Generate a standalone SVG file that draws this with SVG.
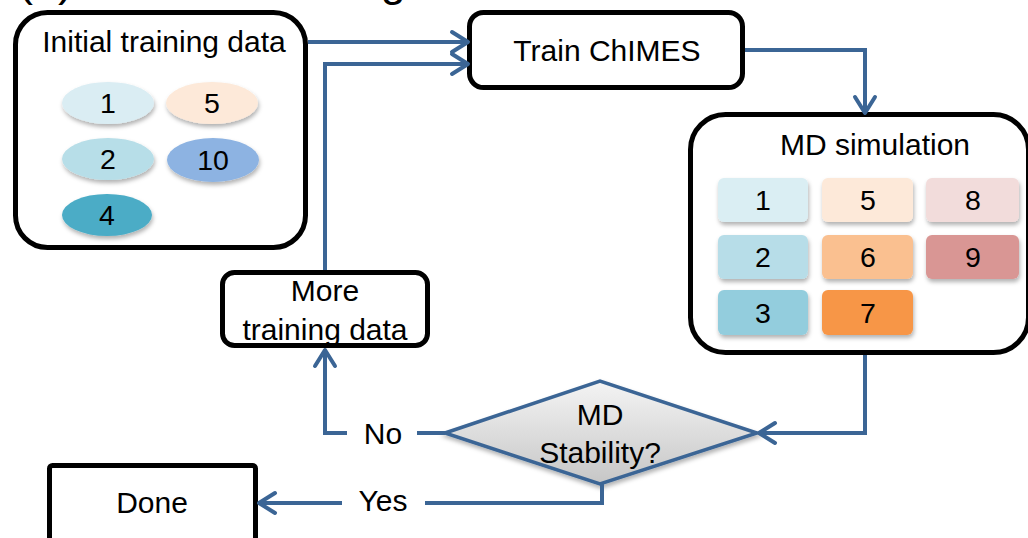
<svg xmlns="http://www.w3.org/2000/svg" width="1028" height="538" viewBox="0 0 1028 538">
<style>
text{font-family:"Liberation Sans",Arial,sans-serif;fill:#000;text-anchor:middle}
.lbl{font-size:30px}
.num{font-size:28.5px}
.box{fill:#fff;stroke:#000;stroke-width:5}
.con{fill:none;stroke:#3b6595;stroke-width:4}
</style>
<defs>
<marker id="arr" viewBox="0 0 20 22" refX="18" refY="11" markerWidth="20" markerHeight="22" markerUnits="userSpaceOnUse" orient="auto" overflow="visible">
<path d="M2,1 L18,11 L2,21" fill="none" stroke="#3b6595" stroke-width="4" stroke-linecap="round" stroke-linejoin="round"/>
</marker>
<filter id="sh" x="-20%" y="-20%" width="140%" height="150%">
<feDropShadow dx="1" dy="3" stdDeviation="2" flood-color="#000" flood-opacity="0.3"/>
</filter>
<linearGradient id="dg" x1="0" y1="0" x2="0" y2="1">
<stop offset="0" stop-color="#f4f4f4"/>
<stop offset="1" stop-color="#c6c6c6"/>
</linearGradient>
</defs>

<text x="18" y="-4" style="font-size:45px;text-anchor:start">(a) Iterative training</text>

<g id="initial-data">
<rect class="box" x="15.5" y="12.5" width="290" height="235" rx="32"/>
<text class="lbl" x="164" y="52">Initial training data</text>
<ellipse cx="108" cy="103" rx="46" ry="21" fill="#daedf3" filter="url(#sh)"/>
<text class="num" x="108" y="113">1</text>
<ellipse cx="212" cy="103" rx="46" ry="21" fill="#fde9d9" filter="url(#sh)"/>
<text class="num" x="212" y="113">5</text>
<ellipse cx="108" cy="159" rx="46" ry="21" fill="#b7dee8" filter="url(#sh)"/>
<text class="num" x="108" y="169">2</text>
<ellipse cx="213" cy="160" rx="46" ry="22" fill="#8db3e2" filter="url(#sh)"/>
<text class="num" x="213" y="170">10</text>
<ellipse cx="107" cy="215" rx="45" ry="21" fill="#4bacc6" filter="url(#sh)"/>
<text class="num" x="107" y="225">4</text>
</g>

<g id="train">
<rect class="box" x="469.5" y="12.5" width="273" height="75" rx="14"/>
<text class="lbl" x="607" y="61">Train ChIMES</text>
</g>

<g id="md-sim">
<rect class="box" x="690.5" y="114.5" width="338" height="238" rx="35"/>
<text class="lbl" x="875" y="155">MD simulation</text>
<g filter="url(#sh)">
<rect x="718" y="178" width="90" height="44" rx="6" fill="#daeef3"/>
<rect x="822" y="178" width="91" height="44" rx="6" fill="#fde9d9"/>
<rect x="926" y="178" width="93" height="44" rx="6" fill="#f2dcdb"/>
<rect x="718" y="235" width="90" height="44" rx="6" fill="#b7dde8"/>
<rect x="822" y="235" width="91" height="44" rx="6" fill="#fac090"/>
<rect x="926" y="235" width="93" height="44" rx="6" fill="#d99694"/>
<rect x="718" y="290" width="90" height="45" rx="6" fill="#93cddd"/>
<rect x="822" y="290" width="91" height="45" rx="6" fill="#f79646"/>
</g>
<text class="num" x="763" y="210">1</text>
<text class="num" x="868" y="210">5</text>
<text class="num" x="973" y="210">8</text>
<text class="num" x="763" y="267">2</text>
<text class="num" x="868" y="267">6</text>
<text class="num" x="973" y="267">9</text>
<text class="num" x="763" y="323">3</text>
<text class="num" x="868" y="323">7</text>
</g>

<g id="stability">
<polygon points="445,433 600,381 757,433 600,484" fill="url(#dg)" stroke="#3b6595" stroke-width="3.5" stroke-linejoin="miter" filter="url(#sh)"/>
<text class="lbl" x="600" y="425">MD</text>
<text class="lbl" x="600" y="463">Stability?</text>
</g>

<g id="more-data">
<rect class="box" x="222.5" y="272.5" width="205" height="73" rx="12"/>
<text class="lbl" x="325" y="301">More</text>
<text class="lbl" x="325" y="340">training data</text>
</g>

<g id="done">
<rect class="box" x="49.5" y="465.5" width="206" height="90" rx="3"/>
<text class="lbl" x="152" y="513">Done</text>
</g>

<g id="connectors">
<path class="con" d="M308,42 H468" marker-end="url(#arr)"/>
<path class="con" d="M325,270 V64 H468" marker-end="url(#arr)"/>
<path class="con" d="M745,50 H865 V113" marker-end="url(#arr)"/>
<path class="con" d="M865,355 V433 H759" marker-end="url(#arr)"/>
<path class="con" d="M445,433 H417"/>
<path class="con" d="M347,433 H325 V350" marker-end="url(#arr)"/>
<path class="con" d="M602,484 V503 H425"/>
<path class="con" d="M342,503 H259" marker-end="url(#arr)"/>
<text class="lbl" x="383" y="444">No</text>
<text class="lbl" x="383" y="511">Yes</text>
</g>
</svg>
